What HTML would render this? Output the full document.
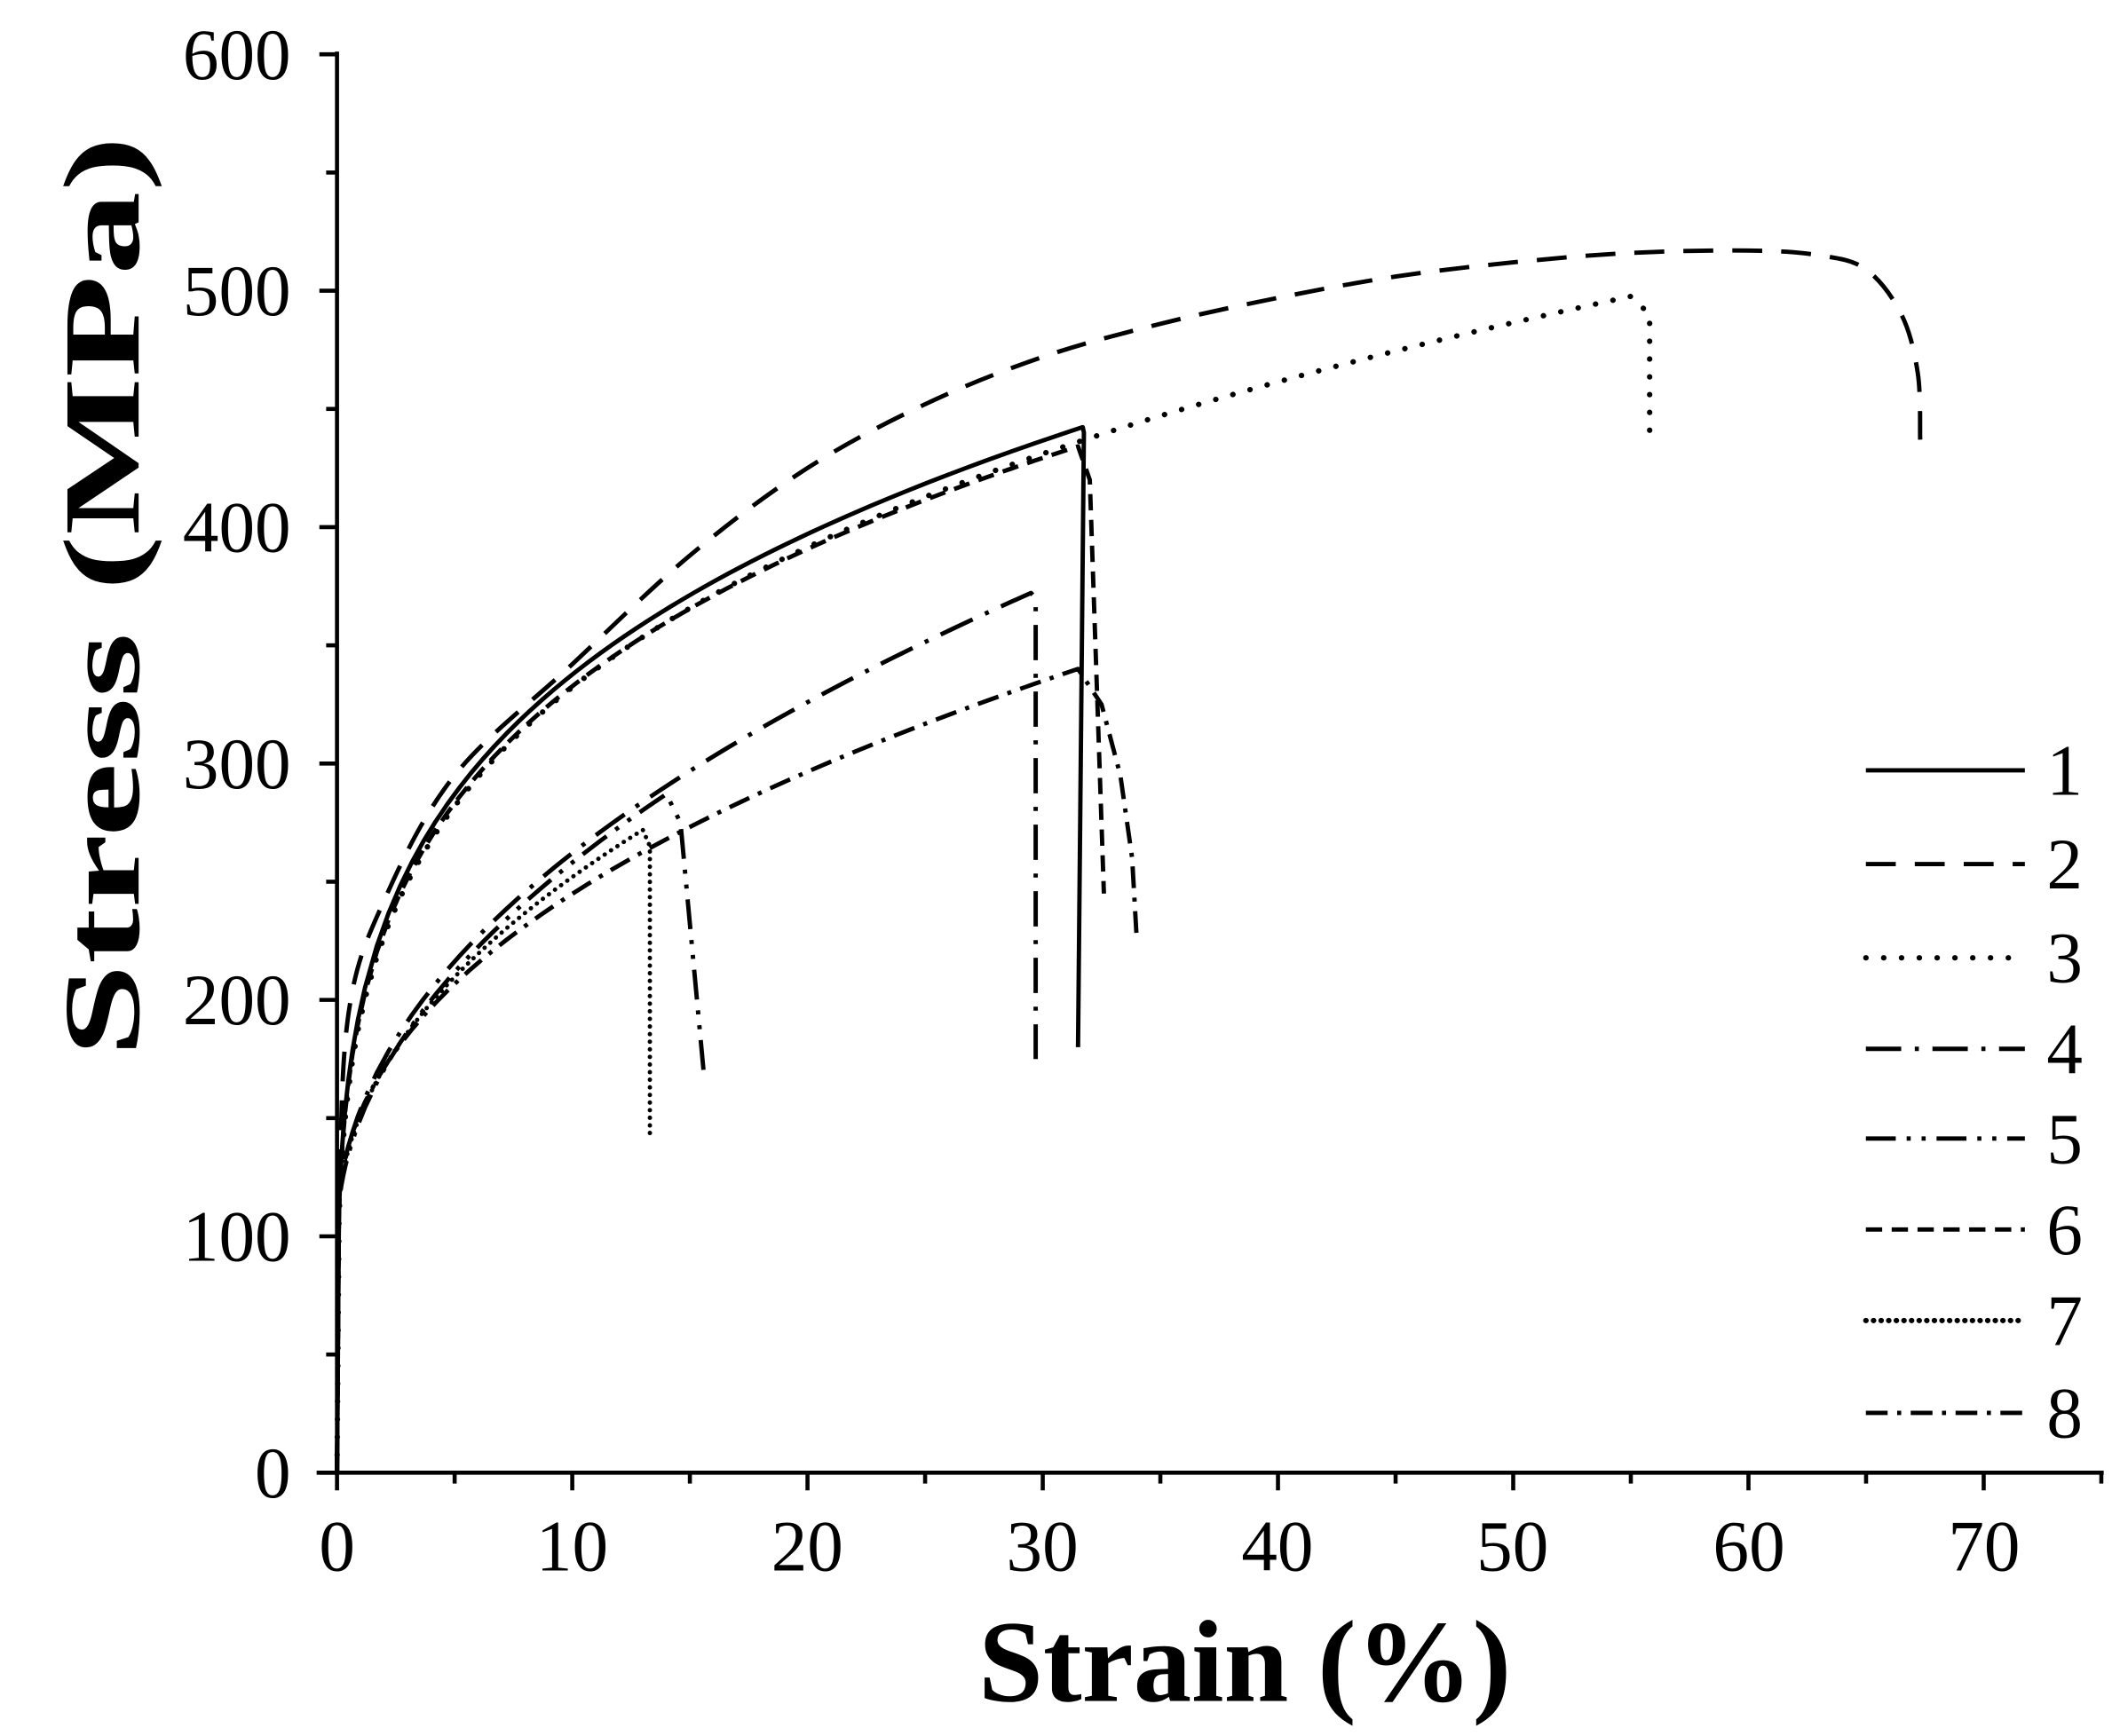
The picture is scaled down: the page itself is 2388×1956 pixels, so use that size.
<!DOCTYPE html>
<html><head><meta charset="utf-8"><style>
html,body{margin:0;padding:0;background:#fff;}
svg{display:block;}
text{font-family:"Liberation Serif",serif;fill:#000;}
</style></head><body>
<svg id="s" width="2388" height="1956" viewBox="0 0 1560 1277.8" preserveAspectRatio="none" xmlns="http://www.w3.org/2000/svg">
<g stroke="#000" stroke-width="3" fill="none" id="axes">
<line x1="248" y1="38" x2="248" y2="1085.5"/>
<line x1="233" y1="1084" x2="1548" y2="1084"/>
</g>
<g font-size="53" text-anchor="end">
<text x="214" y="1102">0</text>
<text x="214" y="928">100</text>
<text x="214" y="754">200</text>
<text x="214" y="580">300</text>
<text x="214" y="406">400</text>
<text x="214" y="232">500</text>
<text x="214" y="58">600</text>
</g>
<g font-size="53" text-anchor="middle">
<text x="248" y="1156">0</text>
<text x="421" y="1156">10</text>
<text x="594" y="1156">20</text>
<text x="767" y="1156">30</text>
<text x="940" y="1156">40</text>
<text x="1113" y="1156">50</text>
<text x="1287" y="1156">60</text>
<text x="1460" y="1156">70</text>
</g>
<text x="720" y="1252" font-size="86" font-weight="bold" textLength="392" lengthAdjust="spacingAndGlyphs">Strain (%)</text>
<text transform="translate(102,778) rotate(-90)" font-size="80" font-weight="bold" textLength="678" lengthAdjust="spacingAndGlyphs">Stress (MPa)</text>
<g font-size="53">
<text x="1506" y="585">1</text>
<text x="1506" y="654">2</text>
<text x="1506" y="723">3</text>
<text x="1506" y="790">4</text>
<text x="1506" y="856">5</text>
<text x="1506" y="923">6</text>
<text x="1506" y="990">7</text>
<text x="1506" y="1058">8</text>
</g>
<g id="curves" fill="none" stroke="#000" stroke-width="3.2" stroke-linejoin="round"></g>
</svg>
<script>
var NS="http://www.w3.org/2000/svg";
var ax=document.getElementById('axes'),cv=document.getElementById('curves');
function X(s){return 248+17.31*s;} function Y(v){return 1084-1.74*v;}
function ln(p,x1,y1,x2,y2,extra){var l=document.createElementNS(NS,'line');l.setAttribute('x1',x1);l.setAttribute('y1',y1);l.setAttribute('x2',x2);l.setAttribute('y2',y2);if(extra)for(var k in extra)l.setAttribute(k,extra[k]);p.appendChild(l);}
for(var v=0;v<=600;v+=50){var y=Y(v);ln(ax,v%100==0?235:240,y,248,y);}
for(var s=0;s<=75;s+=5){var x=X(s);ln(ax,x,1084,x,s%10==0?1097:1092);}
var dash={1:null,2:"22 14",3:"0.1 13",4:"26 10 3 10",5:"22 8 3 8 3 8",6:"12 7",7:"0.1 5.5",8:"16 7 3 7"};
function gen(f,smax){var pts=[[0,0]];var s=0.08;while(s<smax){pts.push([s,f(s)]);s=s<1?s*1.35:s+0.5;}pts.push([smax,f(smax)]);return pts;}
function spline(pts){pts=pts.map(function(p){return [X(p[0]),Y(p[1])];});
var d="M"+pts[0][0]+","+pts[0][1];
for(var i=0;i<pts.length-1;i++){var p0=pts[Math.max(0,i-1)],p1=pts[i],p2=pts[i+1],p3=pts[Math.min(pts.length-1,i+2)];
var t=1/6;var c1=[p1[0]+(p2[0]-p0[0])*t,p1[1]+(p2[1]-p0[1])*t],c2=[p2[0]-(p3[0]-p1[0])*t,p2[1]-(p3[1]-p1[1])*t];
d+=" C"+c1[0]+","+c1[1]+" "+c2[0]+","+c2[1]+" "+p2[0]+","+p2[1];}
return d;}
function poly(pts){return pts.map(function(p,i){return (i?"L":"M")+X(p[0])+","+Y(p[1]);}).join(" ");}
function tail(t){return t.map(function(p){return " L"+X(p[0])+","+Y(p[1]);}).join("");}
var P={};
P[1]=poly(gen(function(s){return 197*Math.pow(s,0.234);},31.7))+tail([[31.75,440],[31.5,180]]);
P[2]=spline([[0,0],[0.1,115],[0.5,195],[2,242],[5,295],[10,342],[15,388],[20,425],[25,452],[30,472],[35,486],[40,497],[45,506],[50,512],[55,516],[60,517],[63,515],[65,509],[66.5,490],[67.2,465],[67.3,437]]);
P[3]=poly(gen(function(s){return 192.5*Math.pow(s,0.237);},55))+tail([[55.8,490],[55.8,435]]);
P[4]=poly(gen(function(s){return 100+53.8*Math.pow(s,0.479);},29.5))+tail([[29.7,370],[29.7,175]]);
P[5]=poly(gen(function(s){return 100+50*Math.pow(s,0.5);},14))+tail([[14.6,275],[15.6,168]]);
P[6]=poly(gen(function(s){return 195*Math.pow(s,0.232);},31.5))+tail([[32,420],[32.6,245]]);
P[7]=poly(gen(function(s){return 100+51.5*Math.pow(s,0.47);},13))+tail([[13.3,265],[13.3,142]]);
P[8]=poly(gen(function(s){return 100+52.6*Math.pow(s,0.44);},31.5))+tail([[32.5,325],[33.3,295],[33.8,260],[34,225]]);
for(var k=1;k<=8;k++){var p=document.createElementNS(NS,'path');p.setAttribute('d',P[k]);
if(dash[k])p.setAttribute('stroke-dasharray',dash[k]);
if(k==3||k==7){p.setAttribute('stroke-linecap','round');p.setAttribute('stroke-width',k==3?4:3.2);}
cv.appendChild(p);
var y=[567,636,705,772,838,905,972,1040][k-1];
var at={};if(dash[k])at['stroke-dasharray']=dash[k];if(k==3||k==7){at['stroke-linecap']='round';at['stroke-width']=4;}
ln(cv,1373,y,1490,y,at);}
</script>
</body></html>
